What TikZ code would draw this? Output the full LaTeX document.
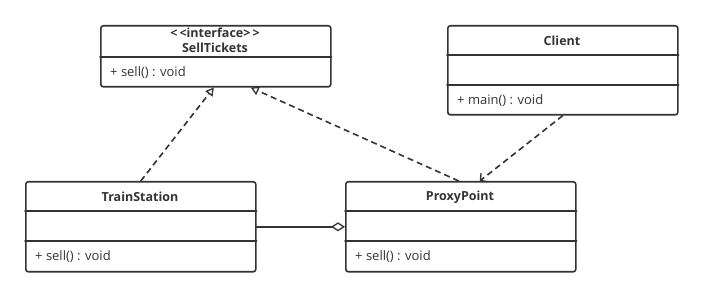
\documentclass[tikz,border=0pt]{standalone}
\usepackage{fontspec}
\setmainfont{Open Sans}
\usetikzlibrary{arrows.meta}
\definecolor{ink}{HTML}{333333}
\begin{document}
\begin{tikzpicture}[x=1pt,y=-1pt,line join=round,line cap=round,font=\fontsize{13}{15}\selectfont]
	\tikzset{classbox/.style={draw=ink,line width=1.6pt,rounded corners=2.5pt,minimum width=230pt,anchor=north west,inner sep=0},
		title/.style={font=\fontsize{12.5}{14}\selectfont\bfseries,text=ink,inner sep=0},
		member/.style={text=ink,anchor=west,inner sep=0},
		realize/.style={draw=ink,line width=1.6pt,line cap=butt,dash pattern=on 6pt off 4pt,-{Triangle[open,length=8pt,width=9pt,line width=1.3pt]}},
		depend/.style={draw=ink,line width=1.6pt,line cap=butt,dash pattern=on 6pt off 4pt,-{Straight Barb[length=5pt,width=11pt,line width=1.3pt]}},
		aggregate/.style={draw=ink,line width=1.6pt,-{Diamond[open,length=14pt,width=9pt,line width=1.3pt]}}}
	\useasboundingbox (0,0) rectangle (702,296);
	% class boxes
	\foreach \n/\x/\y/\h in {SellTickets/100/25/61,Client/447/25/89,TrainStation/25/181/90,ProxyPoint/345/181/90}
		\node[classbox,minimum height=\h pt] (\n) at (\x,\y) {};
	\foreach \n/\y in {SellTickets/57,Client/55,Client/85,TrainStation/211,TrainStation/241,ProxyPoint/211,ProxyPoint/241}
		\draw[draw=ink,line width=1.6pt] (\n.west |- 0,\y) -- (\n.east |- 0,\y);
	% names and members
	\node[title] (stereo) at (215,33) {<\,<interface>\,>};
	\node[title] (name-st) at (215,48) {SellTickets};
	\node[title] (name-cl) at (562,41) {Client};
	\node[title] (name-ts) at (140,197) {TrainStation};
	\node[title] (name-pp) at (460,197) {ProxyPoint};
	\foreach \n/\x/\y/\t in {sell-st/110/73/{+ sell() : void},main-cl/457/101/{+ main() : void},sell-ts/35/257/{+ sell() : void},sell-pp/355/257/{+ sell() : void}}
		\node[member] (\n) at (\x,\y) {\t};
	% relations
	\draw[realize] (TrainStation.north) -- ([xshift=-2pt]SellTickets.south);
	\draw[realize] ([xshift=-2pt]ProxyPoint.north) -- ([xshift=35pt]SellTickets.south);
	\draw[depend] (Client.south) -- ([xshift=19pt]ProxyPoint.north);
	\draw[aggregate] (TrainStation.east) -- (ProxyPoint.west);
\end{tikzpicture}
\end{document}
